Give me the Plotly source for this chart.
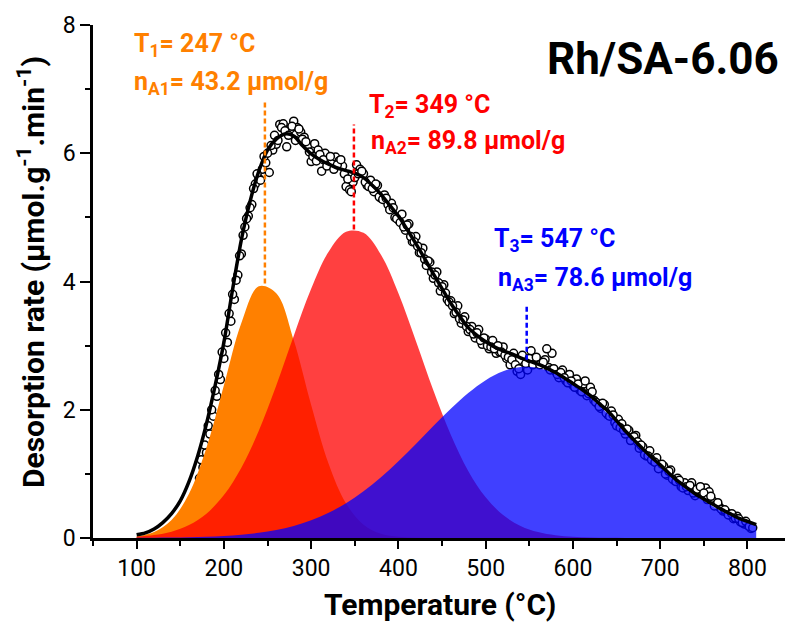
import plotly.graph_objects as go

# ---------------- data ----------------
# common temperature grid for the fitted Gaussian components (°C)
T_FIT = [100, 120, 140, 160, 180, 200, 220, 240, 260, 280, 300, 320, 340, 360,
         380, 400, 420, 440, 460, 480, 500, 520, 540, 560, 580, 600, 620, 640,
         660, 680, 700, 720, 740, 760, 780, 800, 810]

PEAK1 = [0.027, 0.095, 0.281, 0.690, 1.406, 2.382, 3.354, 3.925, 3.818, 3.086,
         2.074, 1.158, 0.537, 0.207, 0.066, 0.018, 0.004, 0.001, 0, 0, 0, 0, 0,
         0, 0, 0, 0, 0, 0, 0, 0, 0, 0, 0, 0, 0, 0]

PEAK2 = [0.019, 0.046, 0.099, 0.201, 0.380, 0.669, 1.096, 1.673, 2.379, 3.151,
         3.886, 4.464, 4.775, 4.759, 4.416, 3.817, 3.073, 2.304, 1.609, 1.046,
         0.634, 0.358, 0.188, 0.092, 0.042, 0.018, 0.007, 0.003, 0.001, 0, 0, 0,
         0, 0, 0, 0, 0]

PEAK3 = [0.002, 0.003, 0.006, 0.010, 0.018, 0.030, 0.050, 0.080, 0.125, 0.189,
         0.277, 0.394, 0.543, 0.728, 0.947, 1.196, 1.466, 1.745, 2.015, 2.260,
         2.460, 2.599, 2.665, 2.653, 2.564, 2.405, 2.190, 1.936, 1.661, 1.384,
         1.119, 0.878, 0.669, 0.495, 0.355, 0.248, 0.204]

# overall fit envelope
T_ENV = [100, 110, 120, 130, 140, 150, 160, 170, 180, 190, 200, 210, 220, 230,
         240, 250, 260, 270, 280, 290, 300, 310, 320, 330, 340, 350, 360, 370,
         380, 390, 400, 410, 420, 430, 440, 450, 460, 470, 480, 490, 500, 510,
         520, 530, 540, 550, 560, 570, 580, 590, 600, 610, 620, 630, 640, 650,
         660, 670, 680, 690, 700, 710, 720, 730, 740, 750, 760, 770, 780, 790,
         800, 810]
ENV = [0.05, 0.08, 0.14, 0.24, 0.38, 0.58, 0.88, 1.28, 1.78, 2.38, 3.05, 3.88,
       4.65, 5.25, 5.72, 6.05, 6.22, 6.30, 6.27, 6.12, 5.99, 5.90, 5.83, 5.77,
       5.73, 5.69, 5.62, 5.50, 5.36, 5.19, 5.02, 4.81, 4.59, 4.36, 4.12, 3.89,
       3.66, 3.46, 3.28, 3.16, 3.06, 2.98, 2.92, 2.87, 2.81, 2.76, 2.71, 2.65,
       2.58, 2.50, 2.41, 2.32, 2.22, 2.10, 1.98, 1.83, 1.67, 1.53, 1.39, 1.26,
       1.14, 1.01, 0.89, 0.79, 0.69, 0.61, 0.53, 0.45, 0.38, 0.31, 0.26, 0.21]

# experimental points (two interleaved read-outs of the dense open circles)
T_EXP_A = list(range(172, 808, 4))
RATE_EXP_A = [
    0.93, 1.10, 1.33, 1.62, 1.90, 2.21, 2.47, 2.80, 3.05, 3.38,
    3.72, 4.10, 4.43, 4.85, 5.02, 5.20, 5.52, 5.61, 5.75, 5.85,
    5.70, 6.05, 6.14, 6.45, 6.46, 6.10, 6.38, 6.50, 6.40, 6.33,
    6.25, 6.12, 5.87, 6.15, 6.05, 5.72, 6.00, 5.88, 5.85, 5.94,
    5.88, 5.80, 5.48, 5.43, 5.55, 5.82, 5.75, 5.68, 5.50, 5.58,
    5.40, 5.50, 5.30, 5.35, 5.20, 5.22, 5.00, 4.96, 5.05, 4.80,
    4.90, 4.62, 4.70, 4.45, 4.52, 4.25, 4.30, 4.05, 4.15, 3.85,
    3.95, 3.72, 3.70, 3.50, 3.62, 3.35, 3.45, 3.22, 3.30, 3.12,
    3.25, 3.02, 3.10, 2.95, 3.08, 2.88, 2.90, 2.98, 2.80, 2.70,
    2.88, 2.60, 2.55, 2.68, 2.62, 2.92, 2.80, 2.75, 2.72, 2.78,
    2.66, 2.88, 2.60, 2.50, 2.62, 2.45, 2.55, 2.38, 2.48, 2.30,
    2.40, 2.22, 2.35, 2.15, 2.10, 2.02, 2.08, 1.92, 1.98, 1.80,
    1.85, 1.78, 1.62, 1.68, 1.55, 1.60, 1.40, 1.42, 1.28, 1.36,
    1.20, 1.25, 1.10, 1.12, 0.98, 1.06, 0.90, 0.93, 0.80, 0.86,
    0.74, 0.86, 0.66, 0.70, 0.72, 0.78, 0.72, 0.58, 0.52, 0.48,
    0.42, 0.40, 0.36, 0.30, 0.34, 0.25, 0.22, 0.20, 0.15]

T_EXP_B = list(range(174, 810, 4))
RATE_EXP_B = [
    1.22, 1.45, 1.75, 2.00, 2.30, 2.55, 2.90, 3.20, 3.50, 3.80,
    4.02, 4.40, 4.72, 4.98, 5.15, 5.45, 5.68, 5.58, 5.95, 6.00,
    6.12, 6.28, 6.20, 6.40, 6.35, 6.28, 6.42, 6.20, 6.38, 6.22,
    6.18, 6.02, 5.95, 5.88, 5.98, 5.90, 5.80, 5.95, 5.75, 5.82,
    5.90, 5.68, 5.60, 5.40, 5.62, 5.68, 5.72, 5.55, 5.48, 5.45,
    5.52, 5.32, 5.28, 5.30, 5.12, 5.15, 4.98, 4.92, 4.85, 4.88,
    4.70, 4.62, 4.55, 4.45, 4.35, 4.32, 4.15, 4.10, 3.98, 3.92,
    3.82, 3.68, 3.62, 3.52, 3.42, 3.40, 3.30, 3.25, 3.18, 3.20,
    3.08, 3.12, 3.00, 2.98, 2.95, 3.00, 2.90, 2.85, 2.82, 2.78,
    2.70, 2.64, 2.85, 2.72, 2.80, 2.70, 2.82, 2.70, 2.74, 2.95,
    2.62, 2.64, 2.55, 2.58, 2.50, 2.42, 2.45, 2.35, 2.40, 2.28,
    2.45, 2.25, 2.28, 2.12, 2.05, 2.10, 1.95, 1.90, 1.92, 1.75,
    1.72, 1.68, 1.70, 1.52, 1.58, 1.50, 1.45, 1.30, 1.28, 1.22,
    1.18, 1.08, 1.15, 1.00, 1.04, 0.92, 0.88, 0.90, 0.78, 0.80,
    0.82, 0.70, 0.76, 0.80, 0.70, 0.60, 0.65, 0.50, 0.55, 0.45,
    0.44, 0.36, 0.38, 0.31, 0.30, 0.24, 0.26, 0.18, 0.16]

# peak markers (dashed guides)
PEAK_T = [247, 349, 547]
GUIDE_LOW = [3.97, 4.81, 2.78]
GUIDE_HIGH = [6.80, 6.45, 3.61]
PEAK_LABELS_T = ["T<sub>1</sub>= 247 °C", "T<sub>2</sub>= 349 °C", "T<sub>3</sub>= 547 °C"]
PEAK_LABELS_N = ["n<sub>A1</sub>= 43.2 μmol/g", "n<sub>A2</sub>= 89.8 μmol/g",
                 "n<sub>A3</sub>= 78.6 μmol/g"]
PEAK_COLORS = ["#FF8000", "#FF0000", "#0000FF"]
FILL_COLORS = ["#FF8000", "rgba(255,0,0,0.75)", "rgba(0,0,255,0.75)"]

X_TICKS = [100, 200, 300, 400, 500, 600, 700, 800]
Y_TICKS = [0, 2, 4, 6, 8]

# ---------------- layout geometry ----------------
W, H = 785, 626
ML, MR, MT, MB = 93, 0, 25, 88
PW, PH = W - ML - MR, H - MT - MB


def px_x(p):
    return (p - ML) / PW


def px_y(p):
    return (H - MB - p) / PH


FONT = "Roboto"

fig = go.Figure()

# experimental points (under the fills)
fig.add_trace(go.Scatter(
    x=T_EXP_A + T_EXP_B, y=RATE_EXP_A + RATE_EXP_B, mode="markers",
    marker=dict(symbol="circle", size=8, color="white",
                line=dict(color="black", width=1.5)),
    showlegend=False, hoverinfo="skip"))

# fitted components
for peak, fc in zip([PEAK1, PEAK2, PEAK3], FILL_COLORS):
    fig.add_trace(go.Scatter(
        x=T_FIT, y=peak, mode="none", fill="tozeroy", fillcolor=fc,
        line=dict(shape="spline", smoothing=1.0),
        showlegend=False, hoverinfo="skip"))

# envelope
fig.add_trace(go.Scatter(
    x=T_ENV, y=ENV, mode="lines",
    line=dict(color="black", width=3.5, shape="spline", smoothing=0.8),
    showlegend=False, hoverinfo="skip"))

# dashed guides
for t, lo, hi, c in zip(PEAK_T, GUIDE_LOW, GUIDE_HIGH, PEAK_COLORS):
    fig.add_trace(go.Scatter(
        x=[t, t], y=[lo, hi], mode="lines",
        line=dict(color=c, width=2.5, dash="5px,3px"),
        showlegend=False, hoverinfo="skip"))

annotations = []
label_pos = [  # (left px, T-line centre px, n-line left px, n-line centre px)
    (132, 45, 132, 83),
    (367, 106, 369, 142),
    (492, 240, 496, 279),
]
for (lx, ly, nx, ny), lt, ln, c in zip(label_pos, PEAK_LABELS_T, PEAK_LABELS_N, PEAK_COLORS):
    annotations.append(dict(
        text=f"<b>{lt}</b>", x=px_x(lx), y=px_y(ly), xref="paper", yref="paper",
        xanchor="left", yanchor="middle", showarrow=False,
        font=dict(family=FONT, size=25, color=c)))
    annotations.append(dict(
        text=f"<b>{ln}</b>", x=px_x(nx), y=px_y(ny), xref="paper", yref="paper",
        xanchor="left", yanchor="middle", showarrow=False,
        font=dict(family=FONT, size=25, color=c)))

# sample name
annotations.append(dict(
    text="<b>Rh/SA-6.06</b>", x=px_x(781), y=px_y(59), xref="paper", yref="paper",
    xanchor="right", yanchor="middle", showarrow=False,
    font=dict(family=FONT, size=44, color="black")))

# axis titles
annotations.append(dict(
    text="<b>Temperature (°C)</b>", x=px_x(440), y=px_y(604), xref="paper",
    yref="paper", xanchor="center", yanchor="middle", showarrow=False,
    font=dict(family=FONT, size=30, color="black")))
annotations.append(dict(
    text="<b>Desorption rate (μmol.g<sup>-1</sup>.min<sup>-1</sup>)</b>",
    x=px_x(31), y=px_y(272), xref="paper", yref="paper", textangle=-90,
    xanchor="center", yanchor="middle", showarrow=False,
    font=dict(family=FONT, size=30, color="black")))

fig.update_layout(
    width=W, height=H,
    margin=dict(l=ML, r=MR, t=MT, b=MB, autoexpand=False),
    paper_bgcolor="white", plot_bgcolor="white",
    annotations=annotations,
    xaxis=dict(
        range=[50, 843], tickvals=X_TICKS, showgrid=False, zeroline=False,
        showline=True, linecolor="black", linewidth=2.5,
        ticks="outside", ticklen=8, tickwidth=2, tickcolor="black",
        tickfont=dict(family=FONT, size=23, color="black"),
        minor=dict(dtick=50, tick0=50, ticks="outside", ticklen=5, tickwidth=2,
                   tickcolor="black", showgrid=False),
        fixedrange=True),
    yaxis=dict(
        range=[0, 8], tickvals=Y_TICKS, showgrid=False, zeroline=False,
        showline=True, linecolor="black", linewidth=2.5,
        ticks="outside", ticklen=10, tickwidth=2, tickcolor="black",
        tickfont=dict(family=FONT, size=23, color="black"),
        minor=dict(dtick=1, tick0=1, ticks="outside", ticklen=5, tickwidth=2,
                   tickcolor="black", showgrid=False),
        fixedrange=True),
)

fig.write_html("out.html")
